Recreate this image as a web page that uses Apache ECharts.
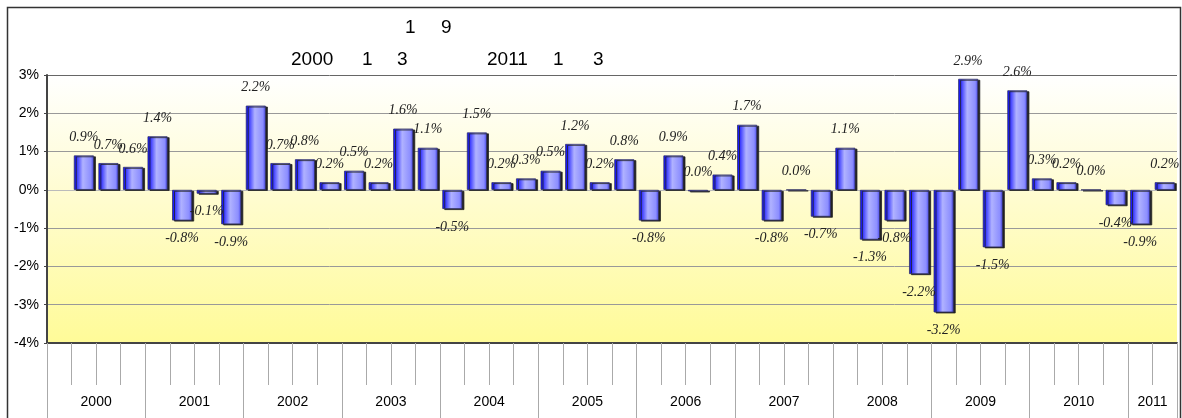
<!DOCTYPE html>
<html>
<head>
<meta charset="utf-8">
<script src="https://cdn.jsdelivr.net/npm/echarts@6/dist/echarts.min.js"></script>
<style>
  html, body { margin: 0; padding: 0; background: #fff; }
  #chart { width: 1182px; height: 418px; }
</style>
</head>
<body>
<div id="chart"></div>
<script>
// 四半期ごとの値 (%) -- 先頭の空き枠の後に45本
const values = [0.9, 0.7, 0.6, 1.4, -0.8, -0.1, -0.9, 2.2, 0.7, 0.8, 0.2, 0.5, 0.2, 1.6, 1.1, -0.5,
  1.5, 0.2, 0.3, 0.5, 1.2, 0.2, 0.8, -0.8, 0.9, -0.04, 0.4, 1.7, -0.8, 0.0, -0.7, 1.1,
  -1.3, -0.8, -2.2, -3.2, 2.9, -1.5, 2.6, 0.3, 0.2, 0.0, -0.4, -0.9, 0.2]
// 年ラベル (2011 は2枠のみ)
const years = ['2000', '2001', '2002', '2003', '2004', '2005', '2006', '2007', '2008', '2009', '2010', '2011']

// 46 category slots, first one empty
const slots = ['']
values.forEach((v, i) => slots.push('q' + (i + 1)))
const barData = [null]
values.forEach(v => {
  const up = v >= -0.05
  barData.push({
    value: v,
    label: { position: up ? 'top' : 'bottom', distance: 11 }
  })
})

// 47 boundary points for year axis (ticks at year edges, label at year centers)
const yearPoints = []
for (let i = 0; i <= 46; i++) yearPoints.push('')
years.forEach((y, i) => {
  const idx = i < 11 ? i * 4 + 2 : 45
  yearPoints[idx] = y
})

const titleFont = '19px "Liberation Sans", Arial, sans-serif'

const chart = echarts.init(document.getElementById('chart'))
chart.setOption({
  animation: false,
  backgroundColor: '#fff',
  grid: {
    left: 47,
    right: 5,
    top: 75,
    bottom: 75,
    show: true,
    borderWidth: 0,
    backgroundColor: new echarts.graphic.LinearGradient(0, 0, 0, 1, [
      { offset: 0, color: '#ffffff' },
      { offset: 0.45, color: '#fffcd0' },
      { offset: 1, color: '#fffb98' }
    ])
  },
  graphic: [
    {
      type: 'rect', left: 5, top: 5,
      shape: { width: 1173, height: 420 },
      style: { fill: 'none', stroke: '#333', lineWidth: 1.5 }
    },
    { type: 'text', left: 405, top: 18, style: { text: '1', font: titleFont, fill: '#000' } },
    { type: 'text', left: 441, top: 18, style: { text: '9', font: titleFont, fill: '#000' } },
    { type: 'text', left: 291, top: 50, style: { text: '2000', font: titleFont, fill: '#000' } },
    { type: 'text', left: 362, top: 50, style: { text: '1', font: titleFont, fill: '#000' } },
    { type: 'text', left: 397, top: 50, style: { text: '3', font: titleFont, fill: '#000' } },
    { type: 'text', left: 487, top: 50, style: { text: '2011', font: titleFont, fill: '#000' } },
    { type: 'text', left: 553, top: 50, style: { text: '1', font: titleFont, fill: '#000' } },
    { type: 'text', left: 593, top: 50, style: { text: '3', font: titleFont, fill: '#000' } }
  ],
  xAxis: [
    {
      type: 'category',
      data: slots,
      position: 'bottom',
      axisLine: { onZero: false, lineStyle: { color: '#444', width: 2 } },
      axisTick: { show: true, interval: 0, length: 42, lineStyle: { color: '#aaa' } },
      axisLabel: { show: false },
      splitLine: { show: false }
    },
    {
      type: 'category',
      data: yearPoints,
      boundaryGap: false,
      position: 'bottom',
      axisLine: { show: false, onZero: false },
      axisTick: {
        show: true,
        length: 80,
        interval: function (idx) { return idx % 4 === 0 || idx === 46 },
        lineStyle: { color: '#aaa' }
      },
      axisLabel: {
        interval: 0,
        margin: 52,
        fontSize: 14,
        fontFamily: '"Liberation Sans", Arial, sans-serif',
        color: '#000'
      },
      splitLine: { show: false }
    }
  ],
  yAxis: {
    type: 'value',
    min: -4,
    max: 3,
    interval: 1,
    axisLine: { show: true, lineStyle: { color: '#444', width: 2 } },
    axisTick: { show: true, length: 3, lineStyle: { color: '#444' } },
    axisLabel: {
      margin: 8,
      fontSize: 14,
      fontFamily: '"Liberation Sans", Arial, sans-serif',
      color: '#000',
      formatter: v => v + '%'
    },
    splitLine: {
      show: true,
      lineStyle: {
        color: ['#444', '#999', '#999', '#999', '#bbb', '#999', '#999', '#666'],
        width: 1
      }
    }
  },
  series: [{
    type: 'bar',
    xAxisIndex: 0,
    data: barData,
    barWidth: 20,
    itemStyle: {
      color: new echarts.graphic.LinearGradient(0, 0, 1, 0, [
        { offset: 0, color: '#0000ff' },
        { offset: 0.12, color: '#2a2aff' },
        { offset: 0.45, color: '#b0b2ff' },
        { offset: 0.85, color: '#8c8eff' },
        { offset: 1, color: '#4646e8' }
      ]),
      borderColor: '#333366',
      borderWidth: 0.8,
      shadowColor: '#222',
      shadowOffsetX: 2,
      shadowOffsetY: 1,
      shadowBlur: 0
    },
    label: {
      show: true,
      fontFamily: '"Liberation Serif", "Times New Roman", serif',
      fontStyle: 'italic',
      fontSize: 14,
      color: '#222',
      formatter: p => (Math.abs(p.value) < 0.05 ? '0.0' : p.value.toFixed(1)) + '%'
    }
  }]
})
</script>
</body>
</html>
